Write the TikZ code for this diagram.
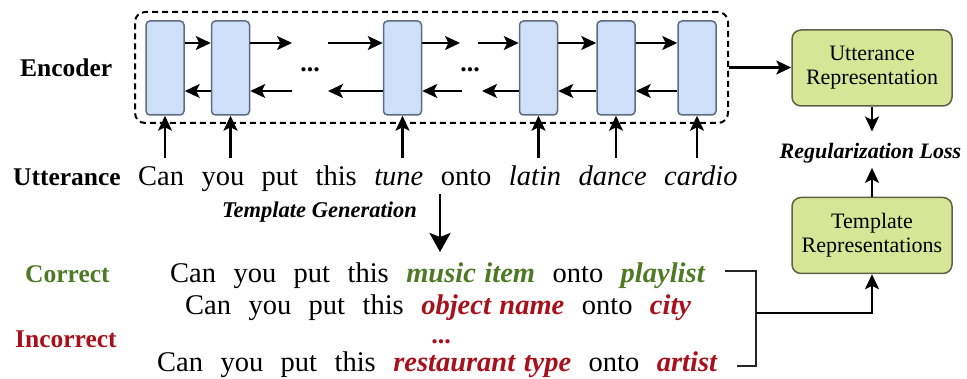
\documentclass[tikz,border=0pt]{standalone}
\usepackage{fontspec}
\setmainfont{Liberation Serif}
\newfontfamily\widefont[WordSpace=2.45]{Liberation Serif}
\usetikzlibrary{arrows.meta}

\definecolor{cellfill}{RGB}{206,223,250}
\definecolor{celldraw}{RGB}{96,106,128}
\definecolor{repfill}{RGB}{214,230,150}
\definecolor{repdraw}{RGB}{92,98,72}
\definecolor{okgreen}{RGB}{78,122,38}
\definecolor{badred}{RGB}{168,16,28}

% slot filler inside a template: bold italic, ordinary word gap
\newcommand{\slotfill}[2]{\textcolor{#1}{\bfseries\itshape #2}}

\begin{document}
\begin{tikzpicture}[x=1pt,y=-1pt,
  cell/.style={draw=celldraw, fill=cellfill, line width=1.5pt, rounded corners=4pt,
    minimum width=38pt, minimum height=94pt, inner sep=0pt},
  rep/.style={draw=repdraw, fill=repfill, line width=1.5pt, rounded corners=9pt,
    minimum width=160pt, minimum height=76pt, align=center,
    font=\fontsize{22}{24}\selectfont, inner sep=0pt},
  arr/.style={line width=2.1pt, -{Stealth[length=15pt,width=14pt,inset=3.5pt]}},
  bigarr/.style={line width=2.8pt, -{Stealth[length=19pt,width=21pt,inset=4pt]}},
  link/.style={line width=2pt, draw=black!85},
  lbl/.style={font=\fontsize{25.5}{28}\selectfont\bfseries, inner sep=0pt, anchor=base west},
  sent/.style={font=\fontsize{28.5}{32}\selectfont\widefont, inner sep=0pt, anchor=base west},
  note/.style={font=\fontsize{22.5}{24}\selectfont\bfseries\itshape, inner sep=0pt},
  dots/.style={font=\fontsize{26}{28}\selectfont\bfseries, inner sep=0pt}
]
\useasboundingbox (0,0) rectangle (967,379);

% encoder frame
\node[draw, line width=2pt, dash pattern=on 6pt off 4pt, rounded corners=10pt,
  minimum width=593pt, minimum height=111pt] (enc) at (431.5,67.5) {};

% recurrent cells
\node[cell] (b1) at (165,68) {};
\node[cell] (b2) at (230.5,68) {};
\node[cell] (b3) at (402.5,68) {};
\node[cell] (b4) at (538.5,68) {};
\node[cell] (b5) at (616,68) {};
\node[cell] (b6) at (697,68) {};

\node[dots] (d1) at (310,70) {...};
\node[dots] (d2) at (470,70) {...};

% forward direction
\coordinate (f1) at (292,43);
\coordinate (f2) at (328,43);
\coordinate (f3) at (460,43);
\coordinate (f4) at (478,43);
\draw[arr] (b1.east |- f1) -- (b2.west |- f1);
\draw[arr] (b2.east |- f1) -- (f1);
\draw[arr] (f2) -- (b3.west |- f2);
\draw[arr] (b3.east |- f3) -- (f3);
\draw[arr] (f4) -- (b4.west |- f4);
\draw[arr] (b4.east |- f1) -- (b5.west |- f1);
\draw[arr] (b5.east |- f1) -- (b6.west |- f1);

% backward direction
\coordinate (g1) at (292,91);
\coordinate (g2) at (328,91);
\coordinate (g3) at (462,91);
\coordinate (g4) at (482,91);
\draw[arr] (b2.west |- g1) -- (b1.east |- g1);
\draw[arr] (g1) -- (b2.east |- g1);
\draw[arr] (b3.west |- g2) -- (g2);
\draw[arr] (g3) -- (b3.east |- g3);
\draw[arr] (b4.west |- g4) -- (g4);
\draw[arr] (b5.west |- g1) -- (b4.east |- g1);
\draw[arr] (b6.west |- g1) -- (b5.east |- g1);

% labels and utterance
\node[lbl] (enclbl) at (20,77) {Encoder};
\node[lbl] (utlbl) at (13,186) {Utterance};
\node[sent] (utt) at (138,186) {Can you put this \textit{tune} onto \textit{latin dance cardio}};

% token inputs
\coordinate (in) at (0,158);
\foreach \b in {b1,b2,b3,b4,b5,b6}
  \draw[arr] (\b.south |- in) -- (\b.south);

% representations
\node[rep] (ur) at (872,68) {Utterance\\Representation};
\node[rep] (tr) at (872,235.5) {Template\\Representations};
\node[note, font=\fontsize{22}{24}\selectfont\bfseries\itshape, anchor=base] (reg) at (870.5,159) {Regularization Loss};
\draw[arr] (enc.east) -- (enc.east -| ur.west);
\draw[arr, shorten >=12pt] (ur.south) -- (ur.south |- reg.north);
\draw[arr, shorten >=4pt] (tr.north) -- (tr.north |- reg.south);

% template generation
\coordinate (tgs) at (440,194);
\coordinate (tge) at (440,252);
\draw[bigarr] (tgs) -- (tge);
\node[note, anchor=base east] (tg) at (417,218) {Template Generation};

\node[lbl, text=okgreen] (ok) at (25,283) {Correct};
\node[lbl, text=badred] (bad) at (15,348) {Incorrect};

\node[sent] (l1) at (170,283) {Can you put this \slotfill{okgreen}{music\hspace{0.3em}item} onto \slotfill{okgreen}{playlist}};
\node[sent] (l2) at (185,315) {Can you put this \slotfill{badred}{object\hspace{0.3em}name} onto \slotfill{badred}{city}};
\node[dots, text=badred] (d3) at (441,342) {...};
\node[sent] (l3) at (157,372) {Can you put this \slotfill{badred}{restaurant\hspace{0.3em}type} onto \slotfill{badred}{artist}};

% bracket gathering the templates
\coordinate (c1) at (725,271);
\coordinate (c3) at (737,366);
\coordinate (j) at (756,313);
\draw[link] (c1) -| (j) |- (c3);
\draw[arr] (j) -| (tr.south);
\end{tikzpicture}
\end{document}
